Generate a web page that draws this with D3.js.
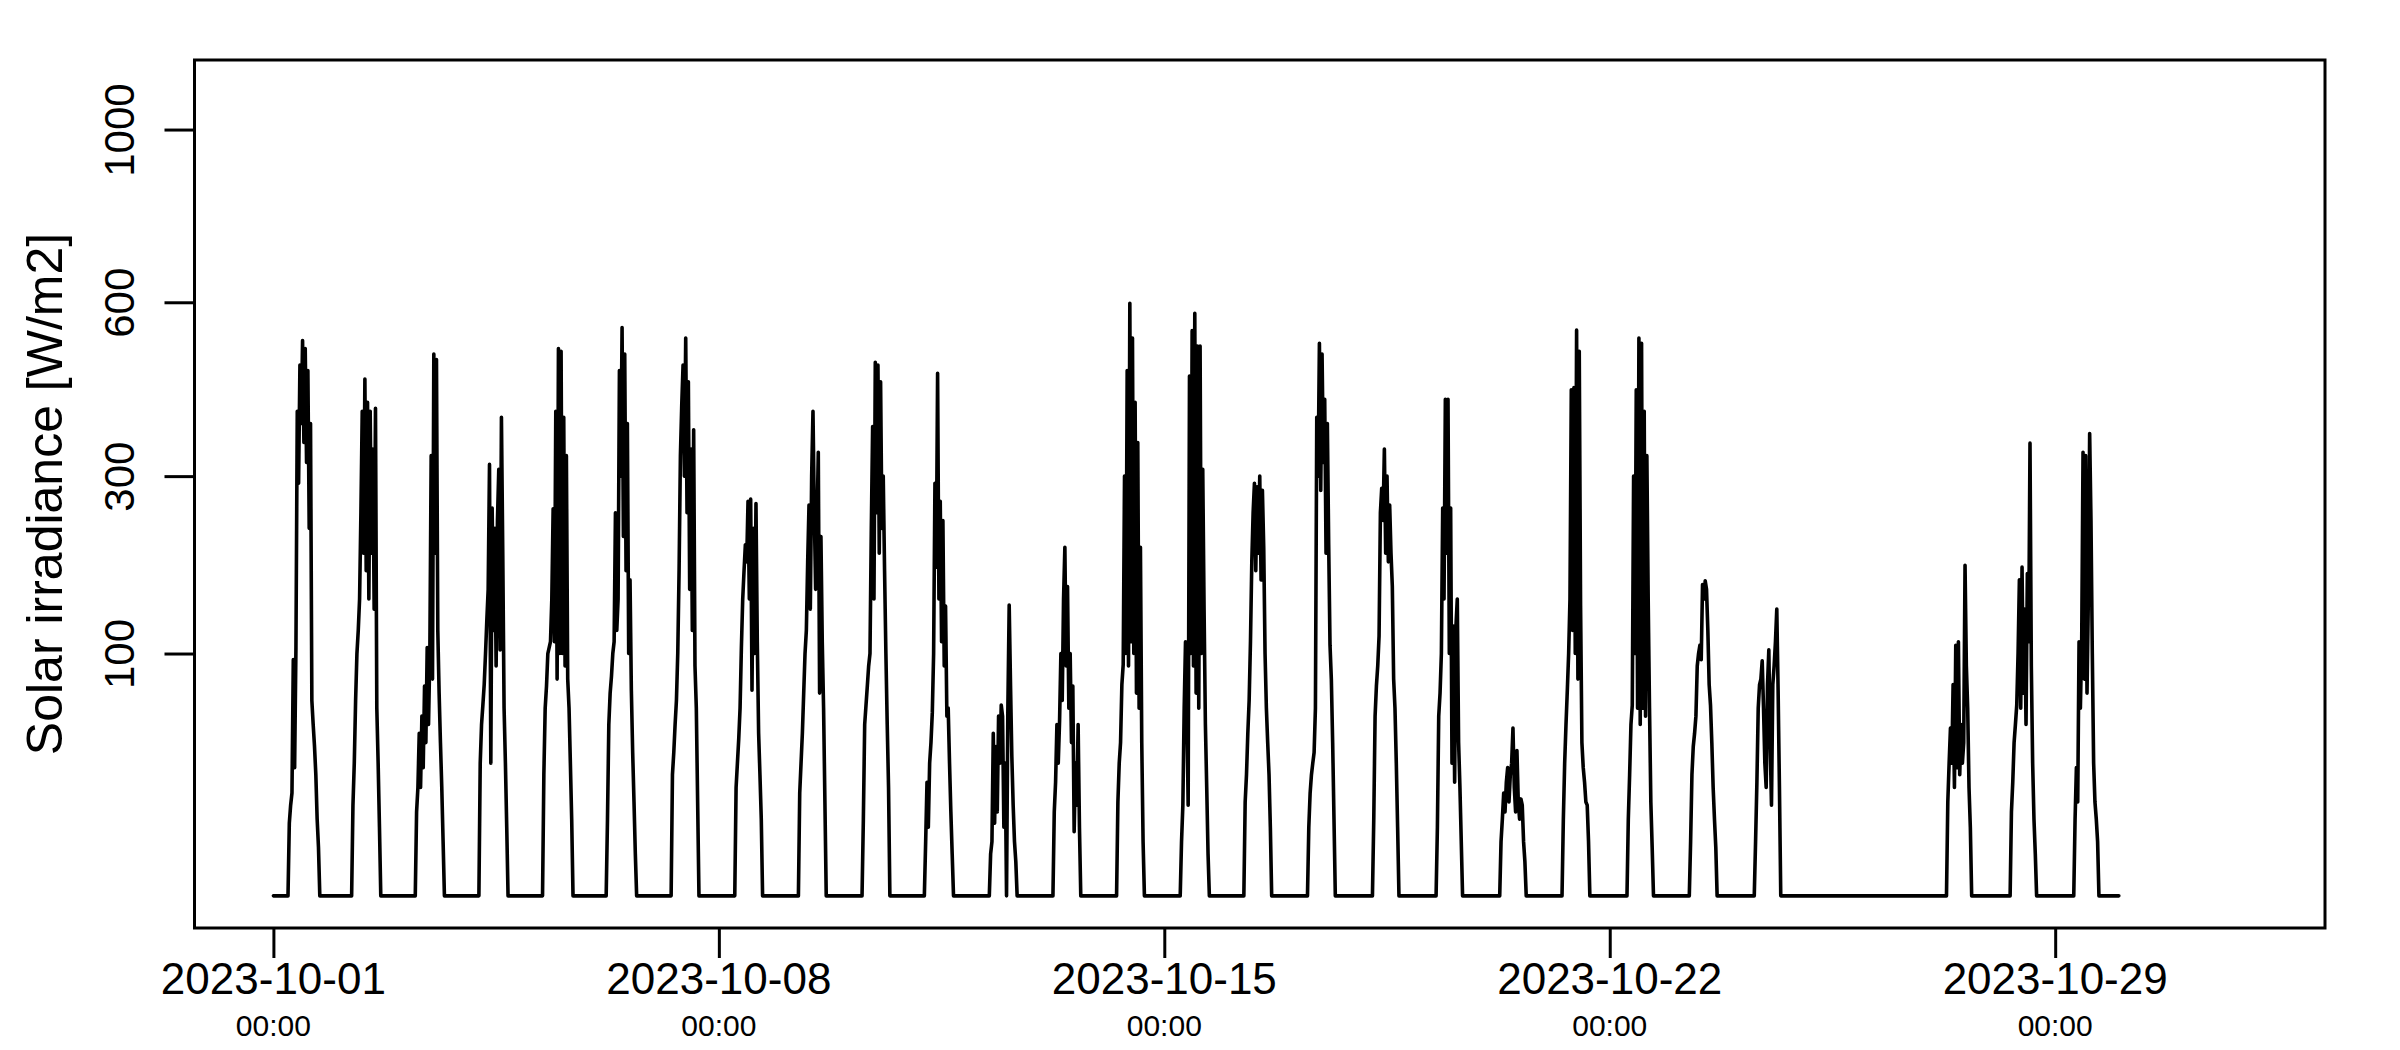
<!DOCTYPE html>
<html>
<head>
<meta charset="utf-8">
<script src="https://cdn.jsdelivr.net/npm/d3@7"></script>
<style>
  html, body { margin: 0; padding: 0; background: #ffffff; }
  svg { display: block; }
  text { font-family: "Liberation Sans", Arial, Helvetica, sans-serif; fill: #000; }
</style>
</head>
<body>
<svg id="chart" width="2400" height="1050"></svg>
<script>
// ---------------- data ----------------
// Record period of the series (values after 2023-10-30 00:00 are missing)
const recordStart = "2023-10-01 00:00";
const recordEnd   = "2023-11-01 00:00";
const lastSample  = "2023-10-30 00:00";
const lastSampleValue = 0;

// Daily irradiance samples [W/m2], every 30 minutes starting at 05:00
const sampleStartTime = "05:00";
const sampleStepMinutes = 30;

const dayDates = [
  "2023-10-01","2023-10-02","2023-10-03","2023-10-04","2023-10-05","2023-10-06","2023-10-07",
  "2023-10-08","2023-10-09","2023-10-10","2023-10-11","2023-10-12","2023-10-13","2023-10-14",
  "2023-10-15","2023-10-16","2023-10-17","2023-10-18","2023-10-19","2023-10-20","2023-10-21",
  "2023-10-22","2023-10-23","2023-10-24","2023-10-25","2023-10-26","2023-10-27","2023-10-28",
  "2023-10-29"
];

const oct01 = [0,0,9,14,18,95,28,105,400,290,480,380,525,350,510,320,470,230,380,65,50,38,25,10,4,0];
const oct02 = [0,0,14,30,65,100,120,150,250,400,200,455,180,415,150,400,200,340,140,405,60,30,8,0];
const oct03 = [0,0,12,20,45,20,55,28,75,40,105,50,100,330,80,500,200,490,120,70,40,20,5,0];
const oct04 = [0,0,30,50,62,76,100,130,160,317,30,256,120,230,90,240,310,103,390,200,60,30,8,0];
const oct05 = [0,0,25,60,75,100,105,110,150,255,110,400,80,510,100,505,100,390,90,330,80,60,30,10,0];
const oct06 = [0,0,10,50,70,82,100,110,250,120,150,470,300,550,220,500,180,380,100,170,72,35,15,3,0];
const oct07 = [0,0,0,25,35,50,65,100,180,330,410,480,300,530,250,450,160,340,120,370,90,60,15,0];
const oct08 = [0,0,0,20,30,42,60,105,150,180,210,190,265,150,268,72,230,100,262,110,45,25,10,0];
const oct09 = [0,0,0,18,30,45,70,100,120,190,260,140,300,400,250,160,230,335,70,220,110,60,15,0];
const oct10 = [0,0,0,10,50,62,75,90,100,230,375,150,485,250,480,200,450,230,300,180,100,50,20,0];
const oct11 = [0,0,5,22,8,30,40,57,100,290,184,465,150,265,110,240,90,143,55,60,30,12,3,0];
const oct12 = [0,0,0,3,5,45,9,38,12,55,30,62,55,8,30,0,60,144,76,33,14,5,2,0];
const oct13 = [0,0,0,12,22,50,30,52,100,65,150,207,90,163,60,100,40,75,7,30,14,50,8,0];
const oct14 = [0,0,0,15,30,40,76,91,300,100,470,90,598,110,530,100,415,70,350,60,207,40,5,0];
const oct15 = [0,0,0,5,14,60,110,60,14,460,100,544,90,578,70,515,60,515,100,310,140,50,20,3,0];
const oct16 = [0,0,0,15,25,45,65,110,190,250,290,180,285,200,300,170,280,207,100,60,40,25,8,0];
const oct17 = [0,0,0,8,18,25,30,35,60,390,300,520,280,500,320,420,200,380,210,107,80,40,10,0];
const oct18 = [0,0,0,0,10,55,75,90,115,250,283,240,340,200,300,190,260,200,163,80,60,30,8,0];
const oct19 = [0,0,0,0,8,55,70,100,256,150,420,200,420,100,256,30,124,22,124,150,40,20,5,0];
const oct20 = [0,0,0,0,5,10,18,12,22,28,15,25,30,48,20,12,36,15,10,16,14,5,2,0];
const oct21 = [0,0,0,10,30,50,72,100,150,436,120,440,100,545,80,505,143,40,28,22,15,14,5,0];
const oct22 = [0,0,0,0,10,25,50,62,300,100,436,60,530,50,520,60,400,55,330,150,60,15,4,0];
const oct23 = [0,0,0,5,25,38,45,55,90,100,107,95,165,150,169,160,120,76,62,40,20,10,4,0];
const oct24 = [0,0,0,0,5,22,60,76,80,94,60,30,20,76,103,40,14,76,90,110,140,72,20,0];
const oct25 = [0];
const oct26 = [0];
const oct27 = [0,0,0,0,0,15,30,48,30,76,20,107,28,110,25,50,30,40,186,90,60,20,8,0];
const oct28 = [0,0,0,0,0,12,22,40,50,62,100,170,60,184,70,140,50,177,110,349,90,30,10,3,0];
const oct29 = [0,0,0,0,0,10,28,15,110,60,110,335,80,330,70,150,364,240,100,30,15,10,5,0];

const dailySeries = [oct01,oct02,oct03,oct04,oct05,oct06,oct07,oct08,oct09,oct10,
  oct11,oct12,oct13,oct14,oct15,oct16,oct17,oct18,oct19,oct20,oct21,oct22,oct23,
  oct24,oct25,oct26,oct27,oct28,oct29];

// Axis ticks and labels
const xTickDates = ["2023-10-01","2023-10-08","2023-10-15","2023-10-22","2023-10-29"];
const xTickTimes = ["00:00","00:00","00:00","00:00","00:00"];
const yTickValues = [100, 300, 600, 1000];
const yAxisMax = 1100;
const yAxisTitle = "Solar irradiance [W/m2]";

// ---------------- build points ----------------
const parseTime = d3.utcParse("%Y-%m-%d %H:%M");
const points = [{t: parseTime(recordStart), v: 0}];
dailySeries.forEach((vals, i) => {
  const t0 = parseTime(dayDates[i] + " " + sampleStartTime);
  vals.forEach((v, j) => {
    points.push({t: new Date(t0.getTime() + j * sampleStepMinutes * 60000), v: v});
  });
});
points.push({t: parseTime(lastSample), v: lastSampleValue});

// ---------------- layout ----------------
const plot = {left: 194.5, right: 2325, top: 60, bottom: 928};
const svg = d3.select("#chart");

// x: R-style 4% padding around the record period
const t0 = parseTime(recordStart), t1 = parseTime(recordEnd);
const span = t1 - t0;
const x = d3.scaleUtc()
  .domain([new Date(t0.getTime() - 0.04 * span), new Date(t1.getTime() + 0.04 * span)])
  .range([plot.left, plot.right]);

// y: square-root axis with 4% padding in transformed space
const sMax = Math.sqrt(yAxisMax);
const sLo = -0.04 * sMax, sHi = 1.04 * sMax;
const y = d3.scaleSqrt()
  .domain([-(sLo * sLo), sHi * sHi])
  .range([plot.bottom, plot.top]);

// ---------------- series line ----------------
const line = d3.line().x(d => x(d.t)).y(d => y(d.v));
svg.append("path")
  .datum(points)
  .attr("d", line)
  .attr("fill", "none")
  .attr("stroke", "#000")
  .attr("stroke-width", 3.6)
  .attr("stroke-linejoin", "round")
  .attr("stroke-linecap", "round");

// ---------------- box ----------------
svg.append("rect")
  .attr("x", plot.left).attr("y", plot.top)
  .attr("width", plot.right - plot.left).attr("height", plot.bottom - plot.top)
  .attr("fill", "none").attr("stroke", "#000").attr("stroke-width", 3);

// ---------------- y axis ----------------
const yAxis = d3.axisLeft(y).tickValues(yTickValues).tickSize(30).tickFormat(d3.format("d"));
const gy = svg.append("g").attr("transform", `translate(${plot.left},0)`).call(yAxis);
gy.select(".domain").remove();
gy.selectAll(".tick line").attr("stroke", "#000").attr("stroke-width", 3);
gy.selectAll(".tick text")
  .attr("x", null).attr("dy", null)
  .attr("y", -61)
  .attr("transform", "rotate(-90)")
  .attr("text-anchor", "middle")
  .style("font-family", '"Liberation Sans", Arial, Helvetica, sans-serif')
  .style("font-size", "42px")
  .attr("fill", "#000");

svg.append("text")
  .attr("transform", `translate(62,${(plot.top + plot.bottom) / 2}) rotate(-90)`)
  .attr("text-anchor", "middle")
  .style("font-size", "50px")
  .text(yAxisTitle);

// ---------------- x axis ----------------
const xTicks = xTickDates.map(d => parseTime(d + " 00:00"));
const xAxis = d3.axisBottom(x).tickValues(xTicks).tickSize(30).tickFormat(() => "");
const gx = svg.append("g").attr("transform", `translate(0,${plot.bottom})`).call(xAxis);
gx.select(".domain").remove();
gx.selectAll(".tick line").attr("stroke", "#000").attr("stroke-width", 3);

const xl = svg.append("g");
xl.selectAll("text.date").data(xTickDates).join("text")
  .attr("class", "date")
  .attr("x", (d, i) => x(xTicks[i]))
  .attr("y", 994)
  .attr("text-anchor", "middle")
  .style("font-size", "44px")
  .text(d => d);
xl.selectAll("text.time").data(xTickTimes).join("text")
  .attr("class", "time")
  .attr("x", (d, i) => x(xTicks[i]))
  .attr("y", 1036)
  .attr("text-anchor", "middle")
  .style("font-size", "30px")
  .text(d => d);
</script>
</body>
</html>
